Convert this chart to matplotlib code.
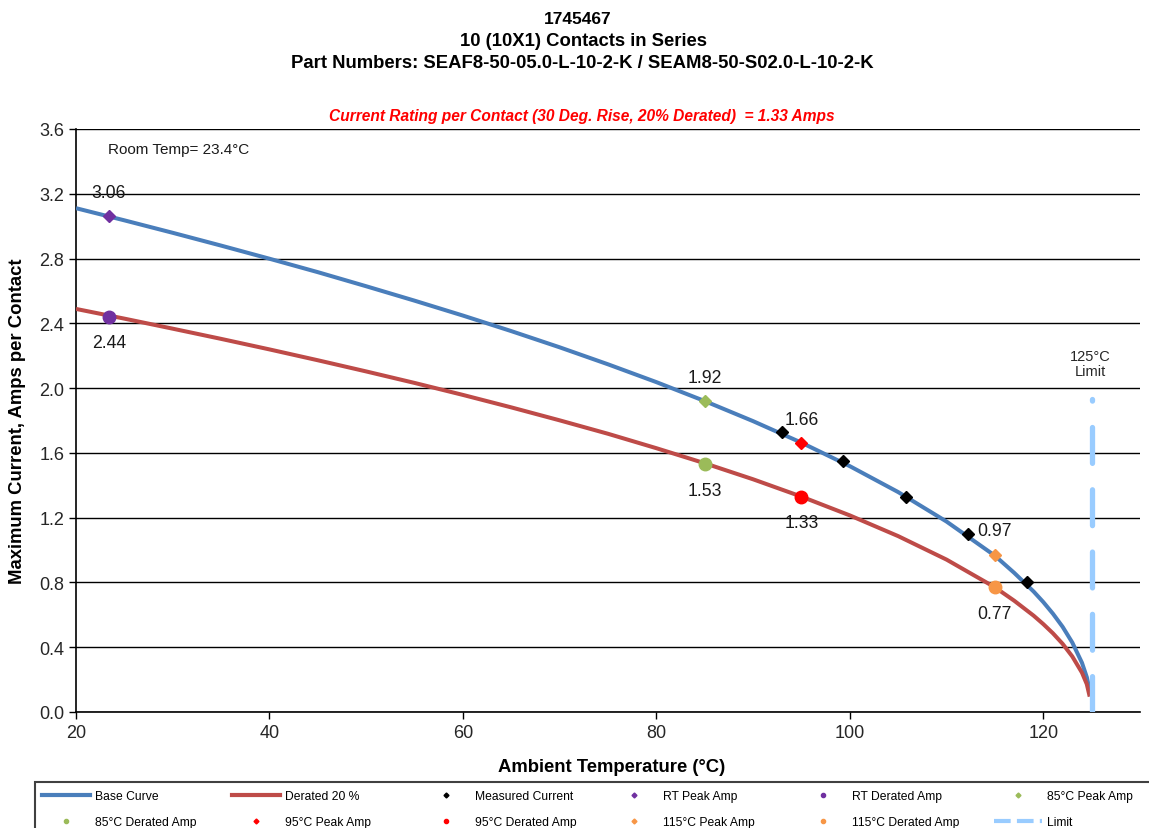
import matplotlib
matplotlib.use("Agg")
import matplotlib.pyplot as plt
from matplotlib.lines import Line2D
from matplotlib.patches import Rectangle

plt.rcParams['font.family'] = ['Liberation Sans', 'DejaVu Sans']

# ---- data ----
temps = [20, 25, 30, 35, 40, 45, 50, 55, 60, 65, 70, 75, 80, 85, 90, 95,
         100, 105, 110, 115, 117, 119, 120, 121, 122, 123, 124, 124.5, 124.8]
base_curve = [3.111, 3.036, 2.959, 2.880, 2.799, 2.716, 2.629, 2.540, 2.448,
              2.352, 2.252, 2.147, 2.037, 1.920, 1.796, 1.663, 1.518, 1.358,
              1.176, 0.965, 0.859, 0.744, 0.679, 0.607, 0.526, 0.429, 0.304,
              0.215, 0.136]
derated_curve = [2.489, 2.429, 2.367, 2.304, 2.239, 2.172, 2.103, 2.032, 1.958,
                 1.881, 1.801, 1.718, 1.629, 1.536, 1.437, 1.330, 1.214, 1.086,
                 0.941, 0.770, 0.687, 0.595, 0.543, 0.486, 0.421, 0.343, 0.243,
                 0.172, 0.095]

meas_temp = [93.0, 99.3, 105.8, 112.2, 118.3]
meas_amp = [1.73, 1.55, 1.33, 1.10, 0.80]

point_temp = [23.4, 85, 95, 115]
peak_amp = [3.06, 1.92, 1.66, 0.97]
derated_amp = [2.44, 1.53, 1.33, 0.77]
point_names = ['RT', '85°C', '95°C', '115°C']
point_colors = ['#7030A0', '#9BBB59', '#FF0000', '#F79646']

limit_temp = 125
limit_top = 1.93

yticks = [0.0, 0.4, 0.8, 1.2, 1.6, 2.0, 2.4, 2.8, 3.2, 3.6]
xticks = [20, 40, 60, 80, 100, 120]

blue = '#4A7EBB'
red = '#BE4B48'
limit_col = '#99CCFF'

# ---- figure ----
W, H = 1149, 829
fig = plt.figure(figsize=(W / 100, H / 100), dpi=100)
ax = fig.add_axes([76 / W, 1 - 713 / H, (1140 - 76) / W, (713 - 130) / H])

ax.plot(temps, base_curve, color=blue, lw=2.9, solid_capstyle='butt', zorder=3)
ax.plot(temps, derated_curve, color=red, lw=2.9, solid_capstyle='butt', zorder=3)
ax.plot(meas_temp, meas_amp, 'D', color='black', ms=6.5, zorder=4, ls='none')

for t, pk, dr, c in zip(point_temp, peak_amp, derated_amp, point_colors):
    ax.plot([t], [pk], 'D', color=c, ms=6.5, zorder=5)
    ax.plot([t], [dr], 'o', color=c, ms=9, zorder=5)

lab_kw = dict(textcoords='offset pixels', ha='center', va='center', fontsize=12.7, color='#1a1a1a')
for t, pk, dr in zip(point_temp, peak_amp, derated_amp):
    ax.annotate(f'{pk:.2f}', (t, pk), xytext=(0, 24), **lab_kw)
    ax.annotate(f'{dr:.2f}', (t, dr), xytext=(0, -26), **lab_kw)

# limit line
lim, = ax.plot([limit_temp, limit_temp], [0, limit_top], color=limit_col, lw=3.8,
               dash_capstyle='round', zorder=6)
lim.set_dashes([6.8, 5.0])
ax.text(124.9, 2.15, '125°C\nLimit', ha='center', va='center', fontsize=10.5,
        linespacing=1.1, color='#262626')
ax.text(23.3, 3.475, 'Room Temp= 23.4°C', ha='left', va='center', fontsize=11,
        color='#1a1a1a')

ax.set_xlim(20, 130)
ax.set_ylim(0, 3.6)
ax.set_xticks(xticks)
ax.set_yticks(yticks)
ax.set_yticklabels([f'{v:.1f}' for v in yticks])
ax.tick_params(labelsize=13, length=5, width=1, colors='black', labelcolor='#262626')
ax.yaxis.grid(True, color='black', lw=1)
ax.set_axisbelow(True)
for s in ['top', 'right']:
    ax.spines[s].set_visible(False)
for s in ['left', 'bottom']:
    ax.spines[s].set_linewidth(1.2)

# titles
fig.text(578 / W, 1 - 19 / H, '1745467', ha='center', va='center', fontsize=12.5, weight='bold')
fig.text(583 / W, 1 - 41 / H, '10 (10X1) Contacts in Series', ha='center', va='center',
         fontsize=13.3, weight='bold')
fig.text(582 / W, 1 - 63 / H, 'Part Numbers: SEAF8-50-05.0-L-10-2-K / SEAM8-50-S02.0-L-10-2-K',
         ha='center', va='center', fontsize=13.3, weight='bold')
fig.text(582 / W, 1 - 116 / H, 'Current Rating per Contact (30 Deg. Rise, 20% Derated)  = 1.33 Amps',
         ha='center', va='center', fontsize=11.2, weight='bold', style='italic', color='#FF0000')
fig.text(612 / W, 1 - 768 / H, 'Ambient Temperature (°C)', ha='center', va='center',
         fontsize=13.3, weight='bold')
fig.text(18 / W, 1 - 421 / H, 'Maximum Current, Amps per Contact', ha='center', va='center',
         rotation=90, fontsize=13.3, weight='bold')

# legend: frame box running off the bottom/right edge, six columns of two rows
fig.add_artist(Rectangle((35 / W, -0.1), 1.2, 0.1 + (829 - 783) / H, transform=fig.transFigure,
                         fill=False, edgecolor='#404040', lw=1.5))
row1 = [
    (Line2D([], [], color=blue, lw=3), 'Base Curve'),
    (Line2D([], [], color=red, lw=3), 'Derated 20 %'),
    (Line2D([], [], color='black', marker='D', ls='none', ms=2.5), 'Measured Current'),
    (Line2D([], [], color=point_colors[0], marker='D', ls='none', ms=2.5), 'RT Peak Amp'),
    (Line2D([], [], color=point_colors[0], marker='o', ls='none', ms=3), 'RT Derated Amp'),
    (Line2D([], [], color=point_colors[1], marker='D', ls='none', ms=2.5), '85°C Peak Amp'),
]
row2 = [
    (Line2D([], [], color=point_colors[1], marker='o', ls='none', ms=3), '85°C Derated Amp'),
    (Line2D([], [], color=point_colors[2], marker='D', ls='none', ms=2.5), '95°C Peak Amp'),
    (Line2D([], [], color=point_colors[2], marker='o', ls='none', ms=3), '95°C Derated Amp'),
    (Line2D([], [], color=point_colors[3], marker='D', ls='none', ms=2.5), '115°C Peak Amp'),
    (Line2D([], [], color=point_colors[3], marker='o', ls='none', ms=3), '115°C Derated Amp'),
    (Line2D([], [], color=limit_col, lw=3, dashes=[4, 1.5]), 'Limit'),
]
col_text_x = [96, 286, 476, 664, 853, 1048]
for cx, a, b in zip(col_text_x, row1, row2):
    fig.legend([a[0], b[0]], [a[1], b[1]], loc='upper left',
               bbox_to_anchor=((cx - 54) / W, 1 - 791 / H), frameon=False,
               fontsize=8.7, handlelength=4.0, handletextpad=0.42, borderpad=0,
               borderaxespad=0, labelspacing=1.15)

fig.savefig('out.png', dpi=100)
